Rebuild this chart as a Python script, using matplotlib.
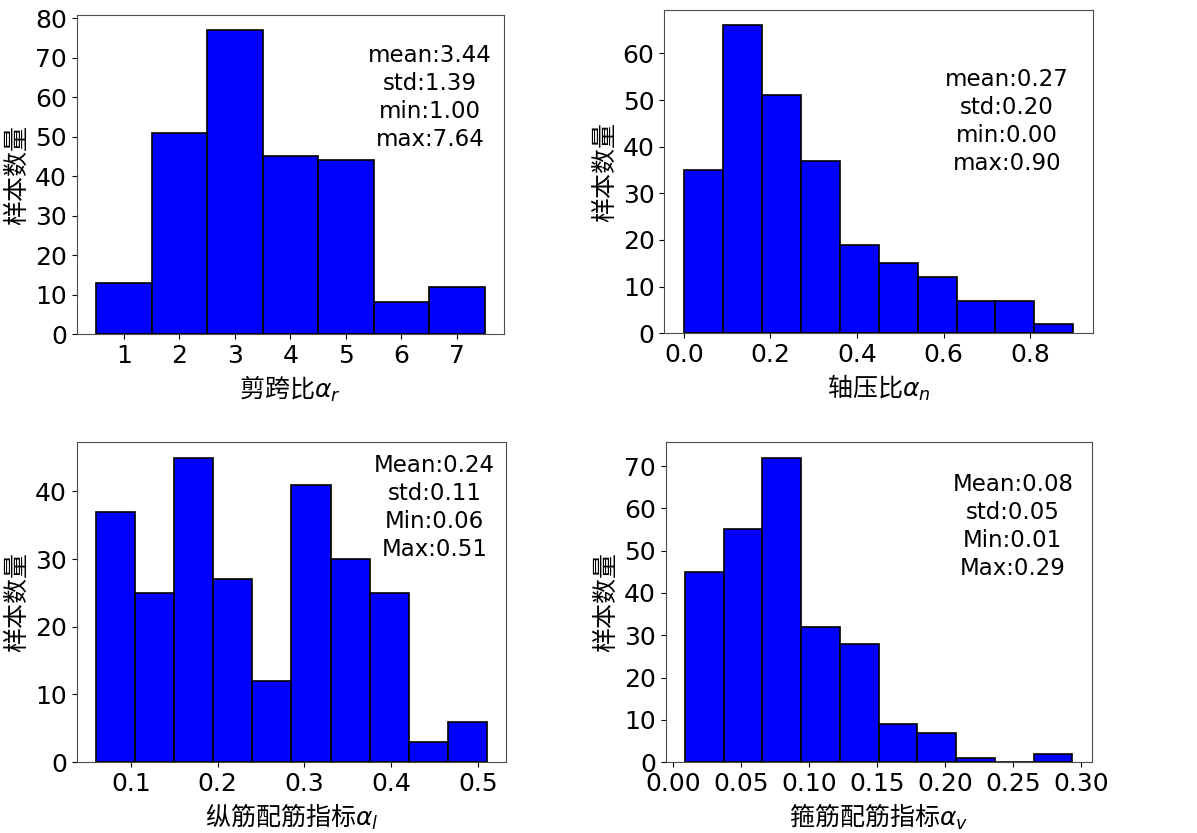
import numpy as np
import matplotlib
matplotlib.use("Agg")
import matplotlib.pyplot as plt

plt.rcParams['font.family'] = ['DejaVu Sans', 'Noto Sans CJK SC']
plt.rcParams['axes.unicode_minus'] = False

# bin ranges (first edge, last edge) and counts
ar_range = (0.5, 7.5)
ar_counts = [13, 51, 77, 45, 44, 8, 12]
an_range = (0.0, 0.9)
an_counts = [35, 66, 51, 37, 19, 15, 12, 7, 7, 2]
al_range = (0.06, 0.51)
al_counts = [37, 25, 45, 27, 12, 41, 30, 25, 3, 6]
av_range = (0.0085, 0.2935)
av_counts = [45, 55, 72, 32, 28, 9, 7, 1, 0, 2]

xlabels = ['剪跨比$\\alpha_r$', '轴压比$\\alpha_n$',
           '纵筋配筋指标$\\alpha_l$', '箍筋配筋指标$\\alpha_v$']
stats = ['mean:3.44\nstd:1.39\nmin:1.00\nmax:7.64',
         'mean:0.27\nstd:0.20\nmin:0.00\nmax:0.90',
         'Mean:0.24\nstd:0.11\nMin:0.06\nMax:0.51',
         'Mean:0.08\nstd:0.05\nMin:0.01\nMax:0.29']
xticks = [list(range(1, 8)),
          [0.0, 0.2, 0.4, 0.6, 0.8],
          [0.1, 0.2, 0.3, 0.4, 0.5],
          [0.0, 0.05, 0.1, 0.15, 0.2, 0.25, 0.3]]
xfmt = ['%d', '%.1f', '%.1f', '%.2f']
ytop = [80, 60, 40, 70]
text_pos = [(0.827, 0.91), (0.80, 0.82), (0.833, 0.965), (0.815, 0.905)]
ax_rects = [[0.064, 0.599, 0.357, 0.383],
            [0.555, 0.600, 0.358, 0.388],
            [0.064, 0.085, 0.359, 0.384],
            [0.556, 0.085, 0.356, 0.384]]

fig = plt.figure(figsize=(11.97, 8.33), dpi=100)

data = [(ar_range, ar_counts), (an_range, an_counts),
        (al_range, al_counts), (av_range, av_counts)]

for i, ((lo, hi), counts) in enumerate(data):
    ax = fig.add_axes(ax_rects[i])
    edges = np.linspace(lo, hi, len(counts) + 1)
    ax.hist(edges[:-1], bins=edges, weights=counts, color='blue',
            edgecolor='black', linewidth=1.2)
    # mathtext uses only the first family for the plain part, so give it the CJK font
    ax.set_xlabel(xlabels[i], fontsize=18, family='Noto Sans CJK SC')
    ax.set_ylabel('样本数量', fontsize=18)
    ax.set_xticks(xticks[i])
    ax.set_xticklabels([xfmt[i] % t for t in xticks[i]])
    ax.set_yticks(range(0, ytop[i] + 1, 10))
    ax.tick_params(labelsize=18)
    for s in ax.spines.values():
        s.set_color('0.3')
    ax.text(text_pos[i][0], text_pos[i][1], stats[i], transform=ax.transAxes,
            ha='center', va='top', multialignment='center', fontsize=16.5,
            linespacing=1.28)

fig.savefig('out.png', dpi=100)
